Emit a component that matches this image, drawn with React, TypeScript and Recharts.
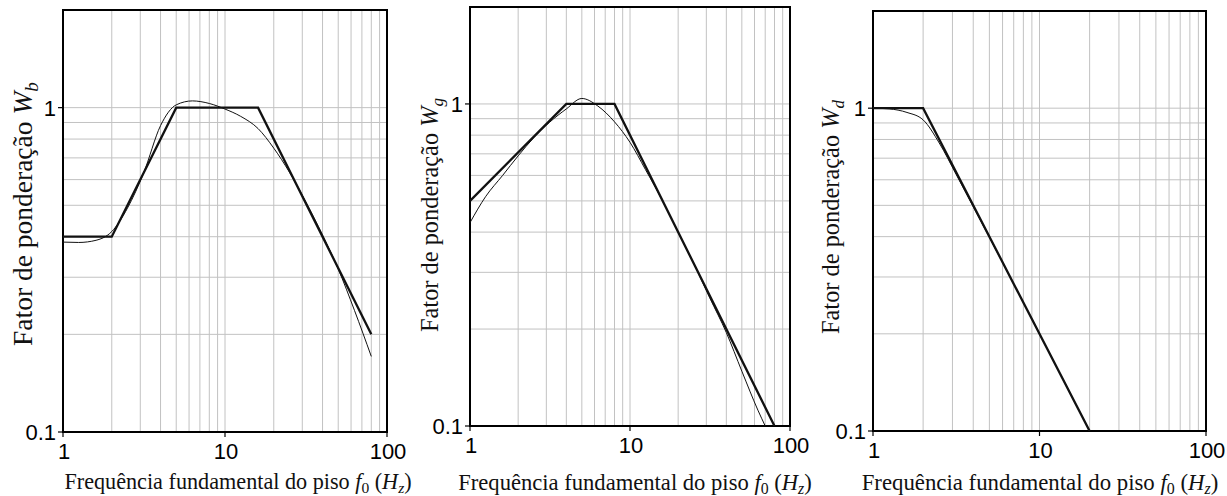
import React from "react";
import { LineChart, Line, XAxis, YAxis, CartesianGrid, ReferenceArea } from "recharts";

// grid lines (log decades) and the few labelled ticks
const xGrid = [1, 2, 3, 4, 5, 6, 7, 8, 9, 10, 20, 30, 40, 50, 60, 70, 80, 90, 100];
const yGrid = [0.1, 0.2, 0.3, 0.4, 0.5, 0.6, 0.7, 0.8, 0.9, 1, 2];
const xLabels = [1, 10, 100];
const yLabels = [0.1, 1];

// W_b
const wbThickF = [1, 2, 5, 16, 80];
const wbThickW = [0.4, 0.4, 1, 1, 0.2];
const wbThinF = [1, 1.25, 1.6, 2, 2.5, 3.15, 4, 5, 6.3, 8, 10, 12.5, 16, 20, 25, 31.5, 40, 50, 63, 80];
const wbThinW = [0.385, 0.384, 0.39, 0.415, 0.49, 0.63, 0.88, 1.02, 1.049, 1.03, 0.99, 0.94, 0.862, 0.75, 0.632, 0.513, 0.405, 0.318, 0.237, 0.171];

// W_g
const wgThickF = [1, 4, 8, 80];
const wgThickW = [0.5, 1, 1, 0.1];
const wgThinF = [1, 1.25, 1.6, 2, 2.5, 3.15, 4, 5, 6.3, 8, 10, 12.5, 16, 20, 25, 31.5, 40, 50, 63, 70];
const wgThinW = [0.428, 0.515, 0.6, 0.69, 0.785, 0.878, 0.965, 1.04, 0.985, 0.88, 0.76, 0.625, 0.5, 0.4, 0.32, 0.25, 0.195, 0.148, 0.112, 0.1];

// W_d
const wdThickF = [1, 2, 20];
const wdThickW = [1, 1, 0.1];
const wdThinF = [1, 1.25, 1.6, 2, 2.5, 3.15, 4, 5, 6.3, 8, 10, 12.5, 16, 20];
const wdThinW = [1, 0.995, 0.97, 0.92, 0.78, 0.625, 0.495, 0.398, 0.317, 0.25, 0.2, 0.16, 0.125, 0.1];

const pts = (f: number[], w: number[]) => f.map((v, i) => ({ f: v, w: w[i] }));

const SANS = "'Liberation Sans', Arial, sans-serif";
const SERIF = "'Liberation Serif', 'Times New Roman', serif";
const H = 496;

function XTick(props: any) {
  const { x, y, payload } = props;
  if (!xLabels.includes(payload.value)) return <g />;
  return (
    <g>
      <line x1={x} y1={y} x2={x} y2={y + 5} stroke="#000" strokeWidth={1.2} />
      <text x={x + 1} y={y + 27} textAnchor="middle" fontSize={22} fontFamily={SANS} fill="#000">
        {payload.value}
      </text>
    </g>
  );
}

function YTick(props: any) {
  const { x, y, payload } = props;
  if (!yLabels.includes(payload.value)) return <g />;
  return (
    <g>
      <line x1={x - 5} y1={y} x2={x} y2={y} stroke="#000" strokeWidth={1.2} />
      <text x={x - 7} y={y + 8} textAnchor="end" fontSize={22} fontFamily={SANS} fill="#000">
        {payload.value}
      </text>
    </g>
  );
}

function XTitle({ cx, by, size }: any) {
  const s = size * 0.7;
  return (
    <text x={cx} y={by} textAnchor="middle" fontSize={size} fontFamily={SERIF} fill="#111">
      Frequência fundamental do piso <tspan fontStyle="italic">f</tspan>
      <tspan dy={4} fontSize={s}>0</tspan>
      <tspan dy={-4}> (</tspan>
      <tspan fontStyle="italic">H</tspan>
      <tspan dy={4} fontSize={s} fontStyle="italic">z</tspan>
      <tspan dy={-4}>)</tspan>
    </text>
  );
}

function YTitle({ cx, cy, size, sub }: any) {
  return (
    <text
      x={cx}
      y={cy + size * 0.33}
      transform={`rotate(-90, ${cx}, ${cy})`}
      textAnchor="middle"
      fontSize={size}
      fontFamily={SERIF}
      fill="#111"
    >
      Fator de ponderação <tspan fontStyle="italic">W</tspan>
      <tspan dy={size * 0.2} fontSize={size * 0.7} fontStyle="italic">{sub}</tspan>
    </text>
  );
}

const panels = [
  {
    left: 0, width: 412, top: 10, right: 25, plotBottom: 432, yw: 63,
    sub: "b", yt: { cx: 23, cy: 214, size: 27.5 }, xt: { cx: 238, by: 489, size: 22.2 },
    thick: pts(wbThickF, wbThickW), thin: pts(wbThinF, wbThinW),
  },
  {
    left: 405, width: 414, top: 7, right: 29, plotBottom: 426, yw: 65,
    sub: "g", yt: { cx: 25, cy: 215, size: 24.4 }, xt: { cx: 230, by: 490, size: 22.6 },
    thick: pts(wgThickF, wgThickW), thin: pts(wgThinF, wgThinW),
  },
  {
    left: 810, width: 417, top: 11, right: 21, plotBottom: 431, yw: 63,
    sub: "d", yt: { cx: 21, cy: 217, size: 24.4 }, xt: { cx: 230, by: 490, size: 22.8 },
    thick: pts(wdThickF, wdThickW), thin: pts(wdThinF, wdThinW),
  },
];

function Panel({ p }: any) {
  return (
    <div style={{ position: "absolute", left: p.left, top: 0 }}>
      <LineChart width={p.width} height={H} margin={{ top: p.top, right: p.right, left: 0, bottom: 0 }}>
        <CartesianGrid stroke="#c2c2c2" strokeWidth={1} />
        <XAxis
          type="number"
          dataKey="f"
          scale="log"
          domain={[1, 100]}
          allowDataOverflow
          ticks={xGrid}
          interval={0}
          tickSize={0}
          tickMargin={0}
          axisLine={false}
          tickLine={false}
          height={H - p.plotBottom}
          tick={<XTick />}
          label={<XTitle cx={p.xt.cx} by={p.xt.by} size={p.xt.size} />}
        />
        <YAxis
          type="number"
          scale="log"
          domain={[0.1, 2]}
          allowDataOverflow
          ticks={yGrid}
          interval={0}
          tickSize={0}
          tickMargin={0}
          axisLine={false}
          tickLine={false}
          width={p.yw}
          tick={<YTick />}
          label={<YTitle cx={p.yt.cx} cy={p.yt.cy} size={p.yt.size} sub={p.sub} />}
        />
        <ReferenceArea x1={1} x2={100} y1={0.1} y2={2} fill="none" stroke="#000" strokeWidth={2} ifOverflow="visible" />
        <Line data={p.thin} dataKey="w" type="monotone" stroke="#111" strokeWidth={1} dot={false} isAnimationActive={false} />
        <Line data={p.thick} dataKey="w" type="linear" stroke="#111" strokeWidth={2.3} dot={false} isAnimationActive={false} />
      </LineChart>
    </div>
  );
}

export default function App() {
  return (
    <div style={{ position: "absolute", left: 0, top: 0, width: 1227, height: H, background: "#fff" }}>
      {panels.map((p, i) => (
        <Panel key={i} p={p} />
      ))}
    </div>
  );
}
